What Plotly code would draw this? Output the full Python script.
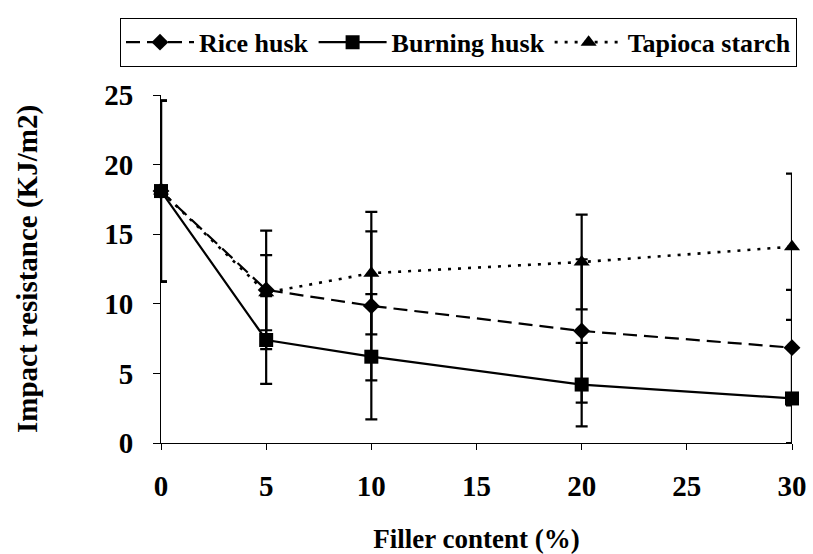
import plotly.graph_objects as go

filler = [0, 5, 10, 20, 30]

rice_husk = [18.1, 11.0, 9.85, 8.05, 6.85]
rice_husk_err = [6.5, 4.25, 5.35, 5.15, 4.15]

burning_husk = [18.1, 7.4, 6.2, 4.2, 3.2]
burning_husk_err_plus = [6.5, 3.15, 4.5, 3.0, 3.6]
burning_husk_err_minus = [6.5, 3.15, 4.5, 3.0, 3.2]

tapioca_starch = [18.1, 10.8, 12.2, 13.0, 14.1]
tapioca_starch_err = [6.5, 2.7, 4.4, 3.4, 5.25]

x_ticks = [0, 5, 10, 15, 20, 25, 30]
y_ticks = [0, 5, 10, 15, 20, 25]

FONT = "'Liberation Serif', 'Times New Roman', 'DejaVu Serif', serif"

fig = go.Figure()

err_style = dict(color="black", thickness=2.2, width=6)

fig.add_trace(go.Scatter(
    x=filler, y=rice_husk, name="Rice husk", mode="lines+markers",
    line=dict(color="black", width=2.2, dash="14px,7px"),
    marker=dict(symbol="diamond", size=13, color="black"),
    error_y=dict(type="data", array=rice_husk_err, visible=True, **err_style),
    cliponaxis=False,
))
fig.add_trace(go.Scatter(
    x=filler, y=burning_husk, name="Burning husk", mode="lines+markers",
    line=dict(color="black", width=2.2),
    marker=dict(symbol="square", size=14, color="black"),
    error_y=dict(type="data", symmetric=False, array=burning_husk_err_plus,
                 arrayminus=burning_husk_err_minus, visible=True, **err_style),
    cliponaxis=False,
))
fig.add_trace(go.Scatter(
    x=filler, y=tapioca_starch, name="Tapioca starch", mode="lines+markers",
    line=dict(color="black", width=2.6, dash="3px,7px"),
    marker=dict(symbol="triangle-up", size=14, color="black"),
    error_y=dict(type="data", array=tapioca_starch_err, visible=True, **err_style),
    cliponaxis=False,
))

fig.update_layout(
    width=813, height=554,
    margin=dict(l=161, r=21, t=95, b=111, autoexpand=False),
    paper_bgcolor="white", plot_bgcolor="white",
    font=dict(family=FONT, size=29, color="black", weight="bold"),
    showlegend=True,
    legend=dict(
        orientation="h", x=-0.065, y=1.222, xanchor="left", yanchor="top",
        bordercolor="black", borderwidth=1, bgcolor="white",
        font=dict(family=FONT, size=26, color="black", weight="bold"),
        itemwidth=68, tracegroupgap=0,
    ),
    xaxis=dict(
        range=[0, 30], tickmode="array", tickvals=x_ticks, automargin=False,
        tickfont=dict(family=FONT, size=29, weight="bold"),
        showgrid=False, zeroline=False, showline=True, linecolor="black", linewidth=1,
        ticks="outside", ticklen=6, tickcolor="black", ticklabelstandoff=11,
        title=dict(text="Filler content (%)", standoff=28,
                   font=dict(family=FONT, size=27, weight="bold")),
    ),
    yaxis=dict(
        range=[0, 25], tickmode="array", tickvals=y_ticks, automargin=False,
        tickfont=dict(family=FONT, size=29, weight="bold"),
        showgrid=False, zeroline=False, showline=True, linecolor="black", linewidth=1,
        ticks="outside", ticklen=7, tickcolor="black", ticklabelstandoff=14,
        title=dict(text="Impact resistance (KJ/m2)", standoff=58,
                   font=dict(family=FONT, size=29, weight="bold")),
    ),
)

fig.write_html("out.html")
